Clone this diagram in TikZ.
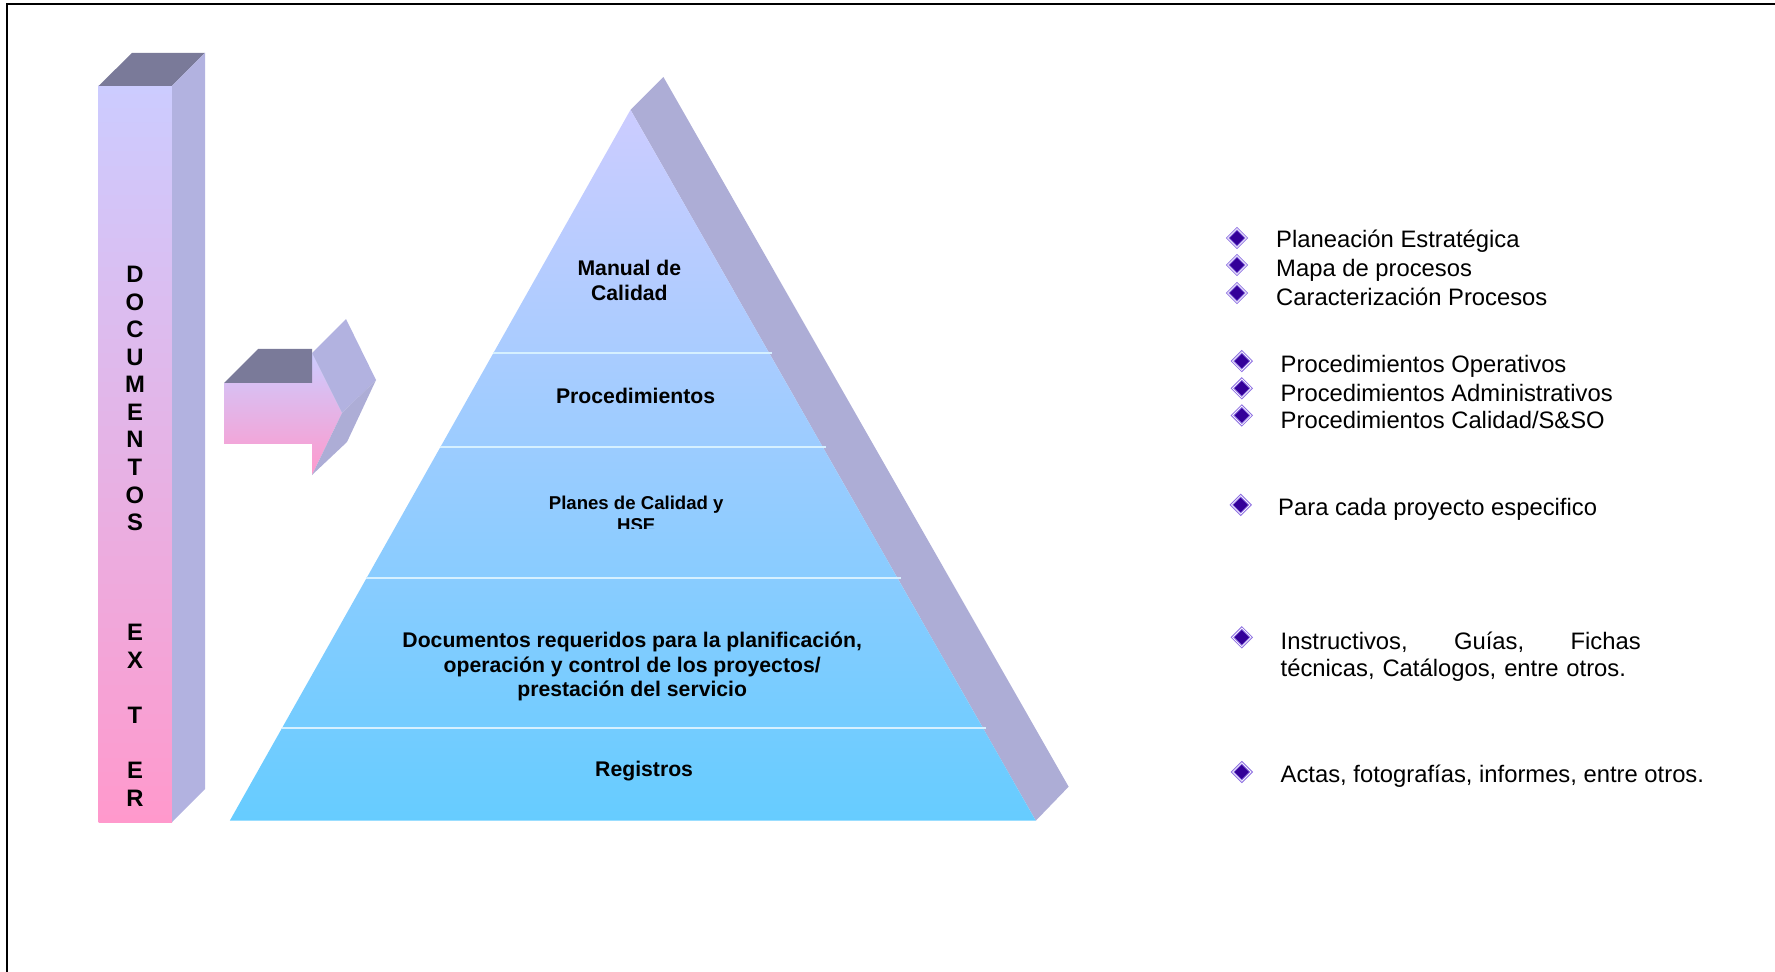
\documentclass[tikz,border=0pt]{standalone}
\usepackage{fontspec}
\setmainfont{Liberation Sans}
\usetikzlibrary{calc,shapes.geometric}
\definecolor{lavender}{RGB}{204,204,255}
\definecolor{lilacmid}{RGB}{220,192,238}
\definecolor{pinkrose}{RGB}{255,153,204}
\definecolor{skyblue}{RGB}{102,204,255}
\definecolor{sidegray}{RGB}{178,178,224}
\definecolor{pyrside}{RGB}{173,173,214}
\definecolor{topslate}{RGB}{122,122,153}
\definecolor{bandline}{RGB}{214,240,255}
\definecolor{bulletfill}{RGB}{51,0,153}
\definecolor{bulletedge}{RGB}{140,110,225}

\tikzset{
  pyrlabel/.style={font=\bfseries\fontsize{10.6}{12.4}\selectfont, align=center, inner sep=0pt},
  colletter/.style={font=\bfseries\fontsize{11.9}{13.8}\selectfont, inner sep=0pt},
  itemtext/.style={font=\fontsize{11.9}{13.6}\selectfont, anchor=west, inner sep=0pt},
  bullet/.style={diamond, fill=bulletfill, draw=bulletedge, double=white, double distance=0.35pt,
    line width=0.5pt, minimum size=9.5pt, inner sep=0pt},
}

\begin{document}
\begin{tikzpicture}[x=0.5pt, y=-0.5pt]
      \useasboundingbox (0,0) rectangle (1775,972);
      % frame
      \draw[line width=1pt] (6.8,972) -- (6.8,4.5) -- (1775,4.5);

      % column
      \coordinate (CA) at (98.5,86);
      \coordinate (CB) at (172,86);
      \coordinate (CC) at (205,53);
      \coordinate (CD) at (132,53);
      \coordinate (CE) at (172,822);
      \coordinate (CF) at (98.5,822);
      \coordinate (CG) at (205,789);

      \shade[top color=lavender, middle color=lilacmid, bottom color=pinkrose] (CA) -- (CB) -- (CE) -- (CF) -- cycle;
      \fill[topslate] (CA) -- (CD) -- (CC) -- (CB) -- cycle;
      \fill[sidegray] (CB) -- (CC) -- (CG) -- (CE) -- cycle;

      \foreach \k / \ch in {0/D,1/O,2/C,3/U,4/M,5/E,6/N,7/T,8/O,9/S,13/E,14/X,16/T,18/E,19/R}
      {
       \node[colletter] (col\k) at (135,274.5+27.55*\k) {\ch};
      }

      % arrow
      \coordinate (AS1) at (224,383);
      \coordinate (AS2) at (312,383);
      \coordinate (AS3) at (312,444);
      \coordinate (AS4) at (224,444);
      \coordinate (AH1) at (312,353);
      \coordinate (AT) at (342,413);
      \coordinate (AH2) at (312,475);
      \coordinate (AB1) at (258,349);
      \coordinate (AB5) at (312,349);
      \coordinate (AB2) at (346,319);
      \coordinate (AB3) at (376,380);
      \coordinate (AB4) at (347,442);

      \shade[top color=lavender, bottom color=pinkrose] (AS1) -- (AS2) -- (AH1) -- (AT) -- (AH2) -- (AS3) -- (AS4) -- cycle;
      \fill[topslate] (AS1) -- (AB1) -- (AB5) -- (AS2) -- cycle;
      \fill[sidegray] (AH1) -- (AB2) -- (AB3) -- (AT) -- cycle;
      \fill[pyrside] (AT) -- (AB3) -- (AB4) -- (AH2) -- cycle;

      % pyramid
      \coordinate (PA) at (630.5,109.8);
      \coordinate (PL) at (229.8,820.7);
      \coordinate (PR) at (1035.8,820.7);
      \coordinate (PB) at (663.4,77);
      \coordinate (PC) at (1068.6,786.7);

      \fill[pyrside] (PA) -- (PB) -- (PC) -- (PR) -- cycle;
      \shade[top color=lavender, bottom color=skyblue] (PA) -- (PR) -- (PL) -- cycle;

      \foreach \t in {0.3424,0.4745,0.6593,0.8695}
      {
       \draw[bandline, line width=1pt] ($(PA)!\t!(PL)$) -- ($(PA)!\t!(PR)+(3,0)$);
      }

      \node[pyrlabel] (manual) at (629.4,280.5) {Manual de\\Calidad};
      \node[pyrlabel] (proc) at (635.6,395.5) {Procedimientos};
      \begin{scope}
        \clip (400,480) rectangle (880,528);
        \node[pyrlabel, font=\bfseries\fontsize{9.3}{11}\selectfont] (planes) at (636.2,514) {Planes de Calidad y\\HSE};
      \end{scope}
      \node[pyrlabel] (docs) at (632.2,666.5) {Documentos requeridos para la planificación,\\operación y control de los proyectos/\\prestación del servicio};
      \node[pyrlabel] (reg) at (644.1,771) {Registros};

      % bullets
      \foreach \n / \bx / \by in {1/1237/238, 2/1237/265, 3/1237/293,
        4/1241.8/361.1, 5/1241.8/388.3, 6/1241.8/415.4, 7/1240.7/504.9, 8/1241.8/637.3, 9/1241.8/772}
      {
       \node[bullet] (b\n) at (\bx,\by) {};
      }

      \foreach \n / \tx / \ty / \txt in {1/1275.8/241.5/{Planeación Estratégica}, 2/1275.8/270/{Mapa de procesos},
        3/1275.8/297/{Caracterización Procesos}, 4/1280.3/366/{Procedimientos Operativos},
        5/1280.3/393/{Procedimientos Administrativos}, 6/1280.3/419.5/{Procedimientos Calidad/S\&SO},
        7/1277.8/509/{Para cada proyecto especifico}}
      {
       \node[itemtext] (t\n) at (\tx,\ty) {\txt};
      }
      \node[itemtext, text width=180pt, align=left] (t8) at (1280.3,656.5) {Instructivos,\hfill Guías,\hfill Fichas\\técnicas, Catálogos, entre otros.};
      \node[itemtext] (t9) at (1280.3,776) {Actas, fotografías, informes, entre otros.};

\end{tikzpicture}
\end{document}
